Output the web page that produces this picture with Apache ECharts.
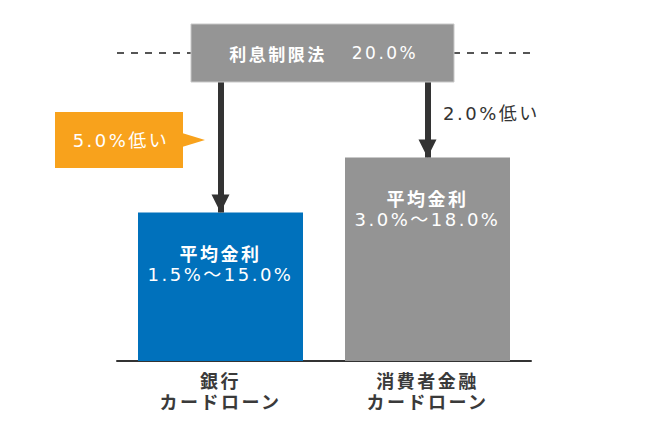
<!DOCTYPE html>
<html><head><meta charset="utf-8">
<script src="https://cdn.jsdelivr.net/npm/echarts@6/dist/echarts.min.js"></script>
<style>
html,body{margin:0;padding:0;background:#fff;}
#main{width:650px;height:441px;}
#main text{letter-spacing:2.5px;}
</style></head><body><div id="main"></div>
<script>
// ---- data ----
const categories = ['銀行\nカードローン', '消費者金融\nカードローン'];
const minRates = [1.5, 3.0];
const maxRates = [15.0, 18.0];
const barColors = ['#0071bc', '#949494'];
const limitName = '利息制限法';
const limitRate = 20.0;
const rateLabel = '平均金利';

// ---- layout / style ----
const FONT = '"DejaVu Sans", "Noto Sans CJK JP", sans-serif';
const CJK = '"Noto Sans CJK JP", sans-serif';
const Y_MIN = 6.9, Y_MAX = 23.7;   // schematic (hidden) value axis for the bars
const fmt = v => v.toFixed(1) + '%';
const diffText = i => fmt(limitRate - maxRates[i]) + '低い';

const chart = echarts.init(document.getElementById('main'), null, {renderer: 'svg'});

chart.setOption({
  animation: false,
  backgroundColor: '#fff',
  textStyle: {fontFamily: FONT},
  grid: {left: 117, right: 119, top: 53, bottom: 80},
  xAxis: {
    type: 'category',
    data: categories,
    axisLine: {lineStyle: {color: '#333', width: 2}},
    axisTick: {show: false},
    axisLabel: {color: '#3a3a3a', fontSize: 18, fontWeight: 'bold', lineHeight: 21, margin: 8, fontFamily: CJK}
  },
  yAxis: [
    {type: 'value', min: Y_MIN, max: Y_MAX, show: false},
    {type: 'value', min: 0, max: limitRate, show: false}
  ],
  series: [
    {
      type: 'bar',
      barWidth: 165,
      data: maxRates.map((v, i) => ({value: v, itemStyle: {color: barColors[i]}})),
      label: {
        show: true,
        position: 'insideTop',
        distance: 29,
        color: '#fff',
        fontFamily: FONT,
        formatter: p => '{a|' + rateLabel + '}\n{b|' + fmt(minRates[p.dataIndex]) + '〜' + fmt(maxRates[p.dataIndex]) + '}',
        rich: {
          a: {fontSize: 18, fontWeight: 'bold', lineHeight: 22, color: '#fff', align: 'center', fontFamily: CJK},
          b: {fontSize: 18, lineHeight: 22, color: '#fff', align: 'center', fontFamily: FONT}
        }
      },
      markLine: {
        silent: true,
        symbol: ['none', 'triangle'],
        symbolSize: 18,
        symbolOffset: [0, [0, 9]],
        label: {show: false},
        lineStyle: {color: '#333', width: 6, type: 'solid'},
        data: maxRates.map((v, i) => [{coord: [i, Y_MAX]}, {coord: [i, v]}])
      }
    },
    {
      type: 'line',
      yAxisIndex: 1,
      data: [],
      markLine: {
        silent: true,
        symbol: ['none', 'none'],
        label: {show: false},
        lineStyle: {color: '#555', width: 2, type: [7, 7]},
        data: [{yAxis: limitRate}]
      }
    }
  ],
  graphic: [
    {type: 'rect', z: 100, shape: {x: 191, y: 24, width: 263, height: 58},
     style: {fill: '#959595', stroke: '#c8c8c8', lineWidth: 1}},
    {type: 'text', z: 101, x: 278, y: 53,
     style: {text: limitName, fill: '#fff', font: 'bold 17px ' + CJK, textAlign: 'center', textVerticalAlign: 'middle'}},
    {type: 'text', z: 101, x: 385, y: 53,
     style: {text: fmt(limitRate), fill: '#fff', font: '17px ' + FONT, textAlign: 'center', textVerticalAlign: 'middle'}},
    {type: 'rect', z: 100, shape: {x: 55, y: 112, width: 128, height: 56}, style: {fill: '#f8a21c'}},
    {type: 'polygon', z: 100, shape: {points: [[182, 133], [205, 140], [182, 147]]}, style: {fill: '#f8a21c'}},
    {type: 'text', z: 101, x: 121, y: 140,
     style: {text: diffText(0), fill: '#fff', font: '18px ' + FONT, textAlign: 'center', textVerticalAlign: 'middle'}},
    {type: 'text', z: 101, x: 443, y: 113,
     style: {text: diffText(1), fill: '#333', font: '18px ' + FONT, textAlign: 'left', textVerticalAlign: 'middle'}}
  ]
});
</script></body></html>
